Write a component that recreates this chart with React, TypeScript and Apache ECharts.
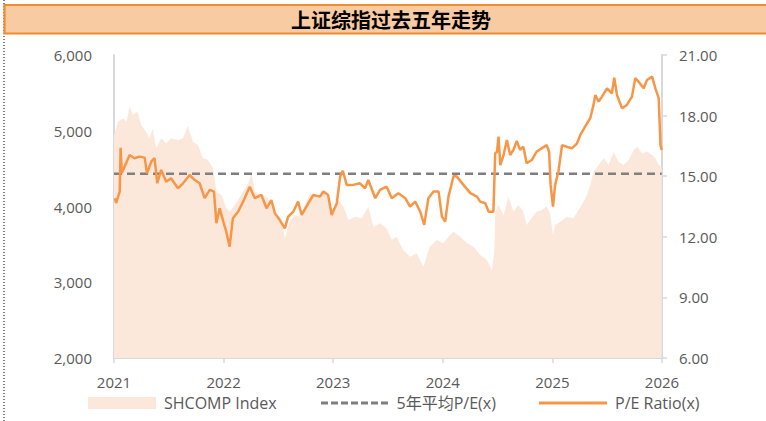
import React, { useEffect, useRef } from "react";
import * as echarts from "echarts";

const titleText = "上证综指过去五年走势";
const legendNames = ["SHCOMP Index", "5年平均P/E(x)", "P/E Ratio(x)"];
const yearTicks = [2021, 2022, 2023, 2024, 2025, 2026];
const avgPE = 15.12;
const avgRange = ["2021-01-01", "2025-12-31"];

const peRatio: [string, number][] = [
  ["2021-01-04", 13.91], ["2021-01-08", 13.67], ["2021-01-20", 14.24], ["2021-01-23", 16.41], ["2021-01-27", 15.16],
  ["2021-02-05", 15.47], ["2021-02-22", 16.05], ["2021-03-10", 15.89], ["2021-03-27", 15.97], ["2021-04-13", 15.92],
  ["2021-04-21", 15.14], ["2021-05-05", 15.72], ["2021-05-16", 15.89], ["2021-05-25", 14.65], ["2021-06-07", 15.31],
  ["2021-06-24", 14.73], ["2021-07-10", 14.9], ["2021-08-02", 14.4], ["2021-08-19", 14.65], ["2021-09-10", 15.06],
  ["2021-09-27", 14.81], ["2021-10-13", 14.65], ["2021-10-30", 13.91], ["2021-11-16", 14.32], ["2021-11-30", 14.24],
  ["2021-12-08", 12.67], ["2021-12-19", 13.41], ["2021-12-31", 12.75],
  ["2022-01-10", 12.25], ["2022-01-21", 11.51], ["2022-02-01", 12.92], ["2022-02-18", 13.24], ["2022-03-07", 13.74],
  ["2022-03-29", 14.48], ["2022-04-15", 13.91], ["2022-05-07", 14.07], ["2022-05-24", 13.41], ["2022-06-09", 13.82],
  ["2022-06-21", 13.16], ["2022-07-07", 12.83], ["2022-07-24", 12.42], ["2022-08-04", 13.0], ["2022-08-21", 13.24],
  ["2022-09-06", 13.74], ["2022-09-18", 13.08], ["2022-10-10", 13.66], ["2022-10-27", 14.07], ["2022-11-18", 13.99],
  ["2022-11-29", 14.24], ["2022-12-15", 14.07], ["2022-12-27", 13.08],
  ["2023-01-13", 13.66], ["2023-01-24", 14.98], ["2023-02-02", 15.27], ["2023-02-15", 14.57], ["2023-03-09", 14.57],
  ["2023-03-31", 14.65], ["2023-04-17", 14.4], ["2023-04-28", 14.81], ["2023-05-21", 13.91], ["2023-06-06", 14.32],
  ["2023-06-28", 14.48], ["2023-07-15", 13.91], ["2023-08-06", 14.16], ["2023-08-29", 13.91], ["2023-09-14", 13.49],
  ["2023-10-01", 13.74], ["2023-10-18", 13.24], ["2023-10-31", 12.59], ["2023-11-14", 13.91], ["2023-12-01", 14.24],
  ["2023-12-18", 14.24], ["2023-12-29", 13.0],
  ["2024-01-09", 12.75], ["2024-01-20", 13.99], ["2024-02-06", 15.01], ["2024-02-17", 14.98], ["2024-03-10", 14.57],
  ["2024-04-02", 14.16], ["2024-04-24", 13.99], ["2024-05-05", 13.74], ["2024-05-22", 13.66], ["2024-06-02", 13.24],
  ["2024-06-18", 13.24], ["2024-06-24", 16.13], ["2024-06-30", 16.21], ["2024-07-05", 16.96], ["2024-07-11", 15.55],
  ["2024-07-22", 16.05], ["2024-08-02", 16.79], ["2024-08-13", 16.05], ["2024-08-24", 16.3], ["2024-09-04", 16.74],
  ["2024-09-15", 16.3], ["2024-09-26", 16.46], ["2024-10-07", 15.64], ["2024-10-24", 15.8], ["2024-11-09", 16.21],
  ["2024-11-26", 16.38], ["2024-12-13", 16.54], ["2024-12-21", 16.21], ["2024-12-26", 14.57],
  ["2025-01-03", 13.49], ["2025-01-10", 14.57], ["2025-01-21", 15.22], ["2025-02-02", 16.54], ["2025-02-18", 16.46],
  ["2025-03-07", 16.38], ["2025-03-24", 16.63], ["2025-04-04", 17.04], ["2025-04-20", 17.45], ["2025-05-07", 17.87],
  ["2025-05-18", 18.53], ["2025-05-24", 19.02], ["2025-06-04", 18.69], ["2025-06-15", 18.94], ["2025-07-02", 19.35],
  ["2025-07-18", 19.1], ["2025-07-26", 19.88], ["2025-08-04", 19.02], ["2025-08-21", 18.36], ["2025-09-06", 18.53],
  ["2025-09-23", 18.94], ["2025-10-04", 19.85], ["2025-10-15", 19.68], ["2025-11-01", 19.35], ["2025-11-12", 19.76],
  ["2025-11-29", 19.93], ["2025-12-10", 19.35], ["2025-12-21", 18.86], ["2025-12-27", 16.54], ["2025-12-31", 16.3],
];

const shcomp: [string, number][] = [
  ["2021-01-01", 4930], ["2021-01-14", 5120], ["2021-01-31", 5164], ["2021-02-11", 5120], ["2021-02-22", 5318],
  ["2021-03-05", 5208], ["2021-03-21", 5252], ["2021-04-01", 5076], ["2021-04-18", 4988], ["2021-04-29", 4900],
  ["2021-05-10", 5032], ["2021-05-21", 4768], ["2021-06-07", 4900], ["2021-06-24", 4834], ["2021-07-10", 4900],
  ["2021-08-02", 4878], ["2021-08-19", 4900], ["2021-09-04", 5067], ["2021-09-21", 4856], ["2021-10-08", 4812],
  ["2021-10-24", 4636], ["2021-11-10", 4614], ["2021-11-27", 4504], ["2021-12-08", 4196], ["2021-12-25", 4152],
  ["2022-01-10", 3976], ["2022-01-21", 3932], ["2022-02-07", 4020], ["2022-03-01", 4152], ["2022-03-24", 4306],
  ["2022-04-04", 4438], ["2022-04-15", 4196], ["2022-05-07", 4152], ["2022-05-29", 4108], ["2022-06-21", 3932],
  ["2022-07-12", 3844], ["2022-07-24", 3580], ["2022-08-09", 3800], ["2022-08-26", 3888], ["2022-09-12", 3866],
  ["2022-10-16", 4174], ["2022-11-07", 4130], ["2022-11-29", 4174], ["2022-12-21", 4086],
  ["2023-01-02", 3888], ["2023-01-18", 4086], ["2023-02-04", 4000], ["2023-02-21", 3822], ["2023-03-15", 3866],
  ["2023-04-06", 3844], ["2023-04-28", 4000], ["2023-05-15", 3734], ["2023-06-06", 3778], ["2023-06-28", 3712],
  ["2023-07-15", 3558], ["2023-07-31", 3602], ["2023-08-22", 3426], ["2023-09-14", 3338], ["2023-10-06", 3382],
  ["2023-10-28", 3206], ["2023-11-19", 3470], ["2023-12-12", 3558],
  ["2024-01-03", 3514], ["2024-01-20", 3602], ["2024-02-06", 3668], ["2024-02-28", 3602], ["2024-03-22", 3514],
  ["2024-04-13", 3470], ["2024-05-05", 3360], ["2024-05-27", 3294], ["2024-06-02", 3250], ["2024-06-13", 3162],
  ["2024-06-21", 3404], ["2024-06-24", 3932], ["2024-07-05", 4020], ["2024-07-22", 3888], ["2024-08-07", 4130],
  ["2024-08-24", 3932], ["2024-09-09", 4020], ["2024-09-26", 3932], ["2024-10-07", 3756], ["2024-10-24", 3844],
  ["2024-11-09", 3932], ["2024-11-26", 3954], ["2024-12-13", 4000], ["2024-12-24", 3910],
  ["2025-01-03", 3624], ["2025-01-10", 3756], ["2025-01-27", 3800], ["2025-02-18", 3866], ["2025-03-12", 3844],
  ["2025-03-29", 3954], ["2025-04-15", 4064], ["2025-04-26", 4152], ["2025-05-07", 4284], ["2025-05-18", 4460],
  ["2025-06-04", 4548], ["2025-06-21", 4636], ["2025-07-07", 4548], ["2025-07-24", 4716], ["2025-08-09", 4592],
  ["2025-08-26", 4548], ["2025-09-12", 4614], ["2025-09-29", 4746], ["2025-10-10", 4790], ["2025-10-27", 4702],
  ["2025-11-12", 4724], ["2025-11-29", 4680], ["2025-12-10", 4636], ["2025-12-21", 4548], ["2025-12-31", 4526],
];

const toYear = (s: string) => {
  const d = new Date(s + "T00:00:00Z");
  const y = d.getUTCFullYear();
  const a = Date.UTC(y, 0, 1);
  const b = Date.UTC(y + 1, 0, 1);
  return y + (d.getTime() - a) / (b - a);
};

const FONT = "'Open Sans', 'Noto Sans CJK SC', sans-serif";
const GREY_TEXT = "#595959";
const AXIS_GREY = "#D9D9D9";
const AREA = "#FCE8DA";
const ORANGE = "#F79646";
const DASH_GREY = "#7F7F7F";

const ICON_SOLID = "path://M0,0L68,0L68,3L0,3Z";
const ICON_DASHED =
  "path://M0,0L7,0L7,3L0,3ZM10,0L17,0L17,3L10,3ZM20,0L27,0L27,3L20,3ZM30,0L37,0L37,3L30,3ZM40,0L47,0L47,3L40,3ZM50,0L57,0L57,3L50,3ZM60,0L67,0L67,3L60,3Z";

export default function App() {
  const ref = useRef<HTMLDivElement>(null);
  useEffect(() => {
    if (!ref.current) return;
    const chart = echarts.init(ref.current, undefined, { renderer: "svg" });
    const legendBase = {
      top: 395,
      padding: 0,
      itemWidth: 68,
      itemHeight: 12,
      textStyle: { fontFamily: FONT, fontSize: 16, color: GREY_TEXT, padding: [0, 0, 0, 3] },
    };
    chart.setOption({
      animation: false,
      backgroundColor: "#ffffff",
      grid: { left: 114, right: 104, top: 55, bottom: 63 },
      legend: [
        {
          ...legendBase,
          left: 88,
          data: [{ name: legendNames[0], icon: "rect", itemStyle: { color: AREA } }],
        },
        {
          ...legendBase,
          left: 321,
          itemHeight: 3,
          data: [{ name: legendNames[1], icon: ICON_DASHED, itemStyle: { color: DASH_GREY } }],
        },
        {
          ...legendBase,
          left: 539,
          itemHeight: 3,
          data: [{ name: legendNames[2], icon: ICON_SOLID, itemStyle: { color: ORANGE } }],
        },
      ],
      xAxis: {
        type: "value",
        min: yearTicks[0],
        max: yearTicks[yearTicks.length - 1],
        interval: 1,
        axisLine: { show: true, lineStyle: { color: AXIS_GREY, width: 2 } },
        axisTick: { show: true, length: 5, lineStyle: { color: AXIS_GREY, width: 1.5 } },
        axisLabel: {
          color: GREY_TEXT,
          fontFamily: FONT,
          fontSize: 15,
          margin: 16,
          formatter: (v: number) => String(Math.round(v)),
        },
        splitLine: { show: false },
      },
      yAxis: [
        {
          type: "value",
          min: 2000,
          max: 6000,
          interval: 1000,
          axisLine: { show: true, lineStyle: { color: AXIS_GREY, width: 2 } },
          axisTick: { show: false },
          axisLabel: {
            color: GREY_TEXT,
            fontFamily: FONT,
            fontSize: 15,
            margin: 22,
            formatter: (v: number) => v.toLocaleString("en-US"),
          },
          splitLine: { show: false },
        },
        {
          type: "value",
          min: 6,
          max: 21,
          interval: 3,
          position: "right",
          axisLine: { show: true, lineStyle: { color: AXIS_GREY, width: 2 } },
          axisTick: { show: true, length: 5, lineStyle: { color: AXIS_GREY, width: 1.5 } },
          axisLabel: {
            color: GREY_TEXT,
            fontFamily: FONT,
            fontSize: 15,
            margin: 17,
            formatter: (v: number) => v.toFixed(2),
          },
          splitLine: { show: false },
        },
      ],
      series: [
        {
          name: legendNames[0],
          type: "line",
          yAxisIndex: 0,
          symbol: "none",
          color: AREA,
          lineStyle: { width: 0, color: AREA },
          areaStyle: { color: AREA, opacity: 1, origin: "start" },
          data: shcomp.map(([d, v]) => [toYear(d), v]),
          z: 1,
        },
        {
          name: legendNames[1],
          type: "line",
          yAxisIndex: 1,
          symbol: "none",
          color: DASH_GREY,
          lineStyle: { color: DASH_GREY, width: 2.5, type: [8, 5] },
          data: avgRange.map((d) => [toYear(d), avgPE]),
          z: 2,
        },
        {
          name: legendNames[2],
          type: "line",
          yAxisIndex: 1,
          symbol: "none",
          color: ORANGE,
          lineStyle: { color: ORANGE, width: 2.5 },
          data: peRatio.map(([d, v]) => [toYear(d), v]),
          z: 3,
        },
      ],
      graphic: [
        {
          type: "line",
          shape: { x1: 4, y1: 0, x2: 4, y2: 421 },
          style: { stroke: "#000", lineWidth: 1, lineDash: [1, 2] },
          z: 0,
        },
        {
          type: "rect",
          shape: { x: 4.5, y: 5, width: 780, height: 28.5 },
          style: { fill: "#F8CBA3", stroke: "#F28A2E", lineWidth: 2.2 },
          z: 10,
        },
        {
          type: "text",
          x: 391,
          y: 19.5,
          style: {
            text: titleText,
            fill: "#000",
            fontSize: 20,
            fontWeight: "bold",
            fontFamily: "'Noto Sans CJK SC', sans-serif",
            align: "center",
            verticalAlign: "middle",
          },
          z: 11,
        },
      ],
    });
    return () => chart.dispose();
  }, []);
  return (
    <div
      ref={ref}
      style={{ position: "fixed", left: 0, top: 0, width: 766, height: 421, background: "#fff" }}
    />
  );
}
